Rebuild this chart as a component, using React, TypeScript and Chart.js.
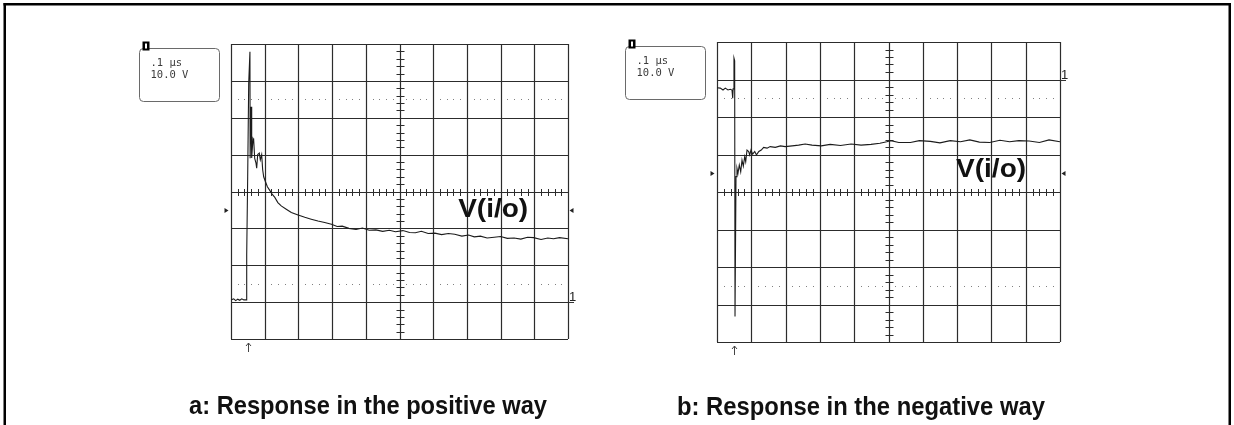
import React, { useEffect, useRef } from "react";
import { Chart, registerables } from "chart.js";

Chart.register(...registerables);

// ---------- data (time in µs, voltage in V, channel-1 ground = 0 V) ----------
const posTime = [
  0.0, 0.008, 0.014, 0.02, 0.026, 0.032, 0.038, 0.045, 0.0466, 0.0495, 0.0525, 0.0562,
  0.0568, 0.0594, 0.0614, 0.0653, 0.0673, 0.0703, 0.0742, 0.0762, 0.0792, 0.084, 0.087,
  0.091, 0.094, 0.097, 0.102, 0.108, 0.115, 0.122, 0.13, 0.139, 0.149, 0.164, 0.179,
  0.199, 0.219, 0.238, 0.258, 0.278, 0.298, 0.315, 0.33, 0.35, 0.371, 0.39, 0.41, 0.43,
  0.45, 0.47, 0.488, 0.51, 0.53, 0.547, 0.565, 0.585, 0.605, 0.625, 0.645, 0.664, 0.685,
  0.705, 0.722, 0.74, 0.76, 0.781, 0.8, 0.82, 0.84, 0.86, 0.88, 0.898, 0.92, 0.94, 0.957,
  0.975, 1.0,
];
const posVolt = [
  0.6, 0.9, 0.4, 0.8, 0.5, 0.9, 0.6, 0.6, 12.8, 34, 59.3, 67.9,
  39, 53, 39.1, 44.4, 44, 39, 37.7, 36.3, 40, 40.4, 38.6,
  40, 35.9, 34, 32.7, 31.3, 30.3, 29.3, 28.4, 27, 26.1, 25.2, 24.3,
  23.6, 23, 22.5, 22, 21.6, 21.1, 20.5, 20.6, 20.0, 19.7, 20.1, 19.5, 19.6,
  19.2, 19.5, 19.1, 19.4, 18.9, 18.8, 19.2, 18.6, 18.7, 18.3, 18.6, 18.4, 17.9,
  18.2, 17.7, 17.9, 17.4, 17.6, 17.8, 17.3, 17.4, 17.1, 17.6, 17.5, 17.0, 17.4, 17.2,
  17.5, 17.2,
];

const negTime = [
  0.0, 0.0096, 0.0175, 0.0242, 0.032, 0.0388, 0.0437, 0.0458, 0.047, 0.0495, 0.0515,
  0.0525, 0.0554, 0.0583, 0.0612, 0.065, 0.0691, 0.0729, 0.0767, 0.0808, 0.0837, 0.0875,
  0.0924, 0.0953, 0.0991, 0.104, 0.11, 0.115, 0.122, 0.129, 0.136, 0.146, 0.155, 0.17,
  0.185, 0.199, 0.219, 0.238, 0.257, 0.277, 0.304, 0.33, 0.36, 0.391, 0.42, 0.449, 0.475,
  0.495, 0.507, 0.53, 0.564, 0.59, 0.622, 0.65, 0.68, 0.71, 0.737, 0.765, 0.795, 0.825,
  0.853, 0.88, 0.91, 0.94, 0.968, 1.0,
];
const negVolt = [
  -2.2, -2.3, -2.8, -2.3, -2.8, -2.6, -2.8, -5.0, -2.5, 5.7, 5.0,
  -63.2, -25.9, -23.7, -25.0, -22.8, -24.6, -21.5, -23.1, -20.6, -21.9, -18.8,
  -19.2, -20.1, -18.8, -19.9, -19.2, -20.1, -19.2, -18.8, -18.1, -18.3, -17.9, -18.1,
  -17.7, -17.9, -17.7, -17.5, -17.2, -17.5, -17.7, -17.3, -17.6, -17.2, -17.5, -17.3, -17.0,
  -16.6, -16.3, -16.8, -16.8, -16.3, -16.5, -16.9, -16.3, -16.6, -16.1, -16.7, -16.8, -16.2,
  -16.6, -16.3, -16.4, -16.8, -16.1, -16.6,
];

// scope settings
const timePerDiv = 0.1; // µs / div
const voltPerDiv = 10; // V / div
const xDivs = 10;
const yDivs = 8;
const posRange = [-10, 70];
const negRange = [-70, 10];
const triggerTime = 0.05;
const triggerLevels = [25, -25];
const scaleLabels = [".1 \u00b5s", "10.0 V"];
const channelLabel = "1";
const traceLabel = "V(i/o)";
const traceLabelAt = [
  [0.674, 23.1],
  [0.697, -25.9],
];
const captions = ["a: Response in the positive way", "b: Response in the negative way"];

// ---------- layout ----------
type Panel = {
  left: number;
  width: number;
  padding: { left: number; right: number; top: number; bottom: number };
  time: number[];
  volt: number[];
  range: number[];
  trig: number;
  caption: string;
  capX: number;
  capY: number;
  capW: number;
  labelAt: number[];
  side: "left" | "right";
};

const panels: Panel[] = [
  {
    left: 0,
    width: 617,
    padding: { left: 231, right: 49, top: 44, bottom: 86 },
    time: posTime,
    volt: posVolt,
    range: posRange,
    trig: triggerLevels[0],
    caption: captions[0],
    capX: 189,
    capY: 414,
    capW: 358,
    labelAt: traceLabelAt[0],
    side: "left",
  },
  {
    left: 617,
    width: 617,
    padding: { left: 100, right: 174, top: 42, bottom: 83 },
    time: negTime,
    volt: negVolt,
    range: negRange,
    trig: triggerLevels[1],
    caption: captions[1],
    capX: 60,
    capY: 415,
    capW: 368,
    labelAt: traceLabelAt[1],
    side: "right",
  },
];

function fitText(ctx: CanvasRenderingContext2D, text: string, x: number, y: number, w: number) {
  const m = ctx.measureText(text).width;
  ctx.save();
  ctx.translate(x, y);
  ctx.scale(w / m, 1);
  ctx.fillText(text, 0, 0);
  ctx.restore();
}

function makePlugin(p: Panel) {
  return {
    id: "scope",
    beforeDatasetsDraw(chart: any) {
      const { ctx, chartArea: a, scales } = chart;
      const xs = scales.x;
      const ys = scales.y;
      const line = (x1: number, y1: number, x2: number, y2: number) => {
        ctx.beginPath();
        ctx.moveTo(x1, y1);
        ctx.lineTo(x2, y2);
        ctx.stroke();
      };
      const vMin = p.range[0];
      const centerV = (p.range[0] + p.range[1]) / 2;
      ctx.save();
      ctx.strokeStyle = "#2c2c2c";
      ctx.lineWidth = 1.2;
      // main graticule
      for (let i = 0; i <= xDivs; i++) {
        const px = Math.round(xs.getPixelForValue(i * timePerDiv)) + 0.5;
        line(px, a.top, px, a.bottom);
      }
      for (let j = 0; j <= yDivs; j++) {
        const py = Math.round(ys.getPixelForValue(vMin + j * voltPerDiv)) + 0.5;
        line(a.left, py, a.right, py);
      }
      // centre cross minor ticks
      ctx.lineWidth = 1;
      const cx = Math.round(xs.getPixelForValue((xDivs / 2) * timePerDiv)) + 0.5;
      const cy = Math.round(ys.getPixelForValue(centerV)) + 0.5;
      for (let k = 1; k < xDivs * 5; k++) {
        if (k % 5 === 0) continue;
        const px = Math.round(xs.getPixelForValue((k * timePerDiv) / 5)) + 0.5;
        line(px, cy - 3.5, px, cy + 3.5);
      }
      for (let k = 1; k < yDivs * 5; k++) {
        if (k % 5 === 0) continue;
        const py = Math.round(ys.getPixelForValue(vMin + (k * voltPerDiv) / 5)) + 0.5;
        line(cx - 4, py, cx + 4, py);
      }
      // dotted rise-time rows at ±2.5 div
      ctx.fillStyle = "#808080";
      for (const off of [-2.5, 2.5]) {
        const py = Math.round(ys.getPixelForValue(centerV + off * voltPerDiv));
        for (let i = 0; i < xDivs; i++) {
          for (let m = 1; m <= 4; m++) {
            const px = Math.round(xs.getPixelForValue((i + m / 5) * timePerDiv));
            ctx.fillRect(px, py, 1, 1);
          }
        }
      }
      ctx.restore();
    },
    afterDraw(chart: any) {
      const { ctx, chartArea: a, scales, width } = chart;
      const xs = scales.x;
      const ys = scales.y;
      ctx.save();
      // page frame
      ctx.fillStyle = "#000";
      if (p.side === "left") {
        ctx.fillRect(3.5, 3, width - 3.5, 2.5);
        ctx.fillRect(3.5, 3, 2.5, 425);
      } else {
        ctx.fillRect(0, 3, 1231 - p.left, 2.5);
        ctx.fillRect(1228.5 - p.left, 3, 2.5, 425);
      }
      // settings box
      const bx = a.left - 92 + 0.5;
      const by = a.top + 4.5;
      const bw = 80;
      const bh = 53;
      ctx.strokeStyle = "#6a6a6a";
      ctx.lineWidth = 1;
      ctx.beginPath();
      ctx.roundRect(bx, by, bw, bh, 4);
      ctx.stroke();
      ctx.fillStyle = "#000";
      ctx.fillRect(bx + 3, by - 7, 7, 9);
      ctx.fillStyle = "#fff";
      ctx.fillRect(bx + 5.5, by - 5, 2, 5);
      ctx.fillStyle = "#3a3a3a";
      ctx.font = "10.5px 'DejaVu Sans Mono', monospace";
      ctx.textBaseline = "alphabetic";
      ctx.fillText(scaleLabels[0], bx + 11, by + 17);
      ctx.fillText(scaleLabels[1], bx + 11, by + 29.5);
      // ground marker
      const gy = Math.round(ys.getPixelForValue(0)) + 0.5;
      ctx.strokeStyle = "#333";
      ctx.beginPath();
      ctx.moveTo(a.right, gy);
      ctx.lineTo(a.right + 6, gy);
      ctx.stroke();
      ctx.fillStyle = "#222";
      ctx.font = "13px 'Liberation Sans', Arial, sans-serif";
      ctx.fillText(channelLabel, a.right + 1, gy - 1.5);
      // trigger level markers
      const ty = Math.round(ys.getPixelForValue(p.trig)) + 0.5;
      ctx.fillStyle = "#222";
      ctx.beginPath();
      ctx.moveTo(a.left - 2.5, ty);
      ctx.lineTo(a.left - 6.5, ty - 2.5);
      ctx.lineTo(a.left - 6.5, ty + 2.5);
      ctx.closePath();
      ctx.fill();
      ctx.beginPath();
      ctx.moveTo(a.right + 1.5, ty);
      ctx.lineTo(a.right + 5.5, ty - 2.5);
      ctx.lineTo(a.right + 5.5, ty + 2.5);
      ctx.closePath();
      ctx.fill();
      // trigger position arrow
      const tx = Math.round(xs.getPixelForValue(triggerTime)) + 0.5;
      ctx.strokeStyle = "#444";
      ctx.beginPath();
      ctx.moveTo(tx, a.bottom + 13);
      ctx.lineTo(tx, a.bottom + 4);
      ctx.moveTo(tx - 2.5, a.bottom + 7);
      ctx.lineTo(tx, a.bottom + 4);
      ctx.lineTo(tx + 2.5, a.bottom + 7);
      ctx.stroke();
      // trace label
      ctx.fillStyle = "#111";
      ctx.font = "bold 25px 'Liberation Sans', Arial, sans-serif";
      fitText(ctx, traceLabel, xs.getPixelForValue(p.labelAt[0]), ys.getPixelForValue(p.labelAt[1]), 70);
      // caption
      ctx.fillStyle = "#111";
      ctx.font = "bold 26px 'Liberation Sans', Arial, sans-serif";
      fitText(ctx, p.caption, p.capX, p.capY, p.capW);
      ctx.restore();
    },
  };
}

function ScopePanel({ p }: { p: Panel }) {
  const ref = useRef<HTMLCanvasElement | null>(null);
  useEffect(() => {
    if (!ref.current) return;
    const chart = new Chart(ref.current, {
      type: "line",
      data: {
        datasets: [
          {
            data: p.time.map((t, i) => ({ x: t, y: p.volt[i] })),
            borderColor: "#1c1c1c",
            borderWidth: 1.1,
            pointRadius: 0,
            tension: 0,
            fill: false,
          },
        ],
      },
      options: {
        responsive: false,
        maintainAspectRatio: false,
        animation: false,
        events: [],
        layout: { padding: p.padding },
        scales: {
          x: { type: "linear", display: false, min: 0, max: xDivs * timePerDiv },
          y: { type: "linear", display: false, min: p.range[0], max: p.range[1] },
        },
        plugins: {
          legend: { display: false },
          tooltip: { enabled: false },
          title: { display: false },
        },
      },
      plugins: [makePlugin(p)],
    } as any);
    return () => chart.destroy();
  }, [p]);
  return (
    <canvas
      ref={ref}
      width={p.width}
      height={425}
      style={{ position: "absolute", left: p.left, top: 0, width: p.width, height: 425 }}
    />
  );
}

export default function App() {
  return (
    <div
      style={{
        position: "absolute",
        left: 0,
        top: 0,
        width: 1234,
        height: 425,
        background: "#fff",
        overflow: "hidden",
      }}
    >
      {panels.map((p, i) => (
        <ScopePanel key={i} p={p} />
      ))}
    </div>
  );
}
